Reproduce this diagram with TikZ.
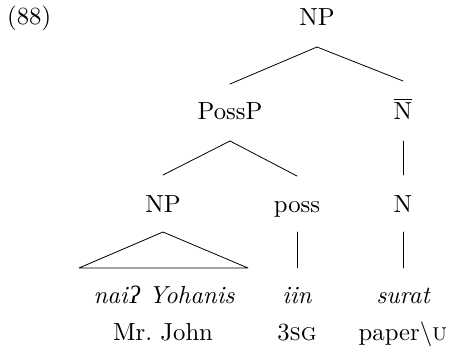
\documentclass[tikz,border=0pt]{standalone}
\usepackage{fontspec}
\setmainfont{lmroman10-regular}[Extension=.otf, ItalicFont=lmroman10-italic, SmallCapsFont=lmromancaps10-regular]
\newfontfamily\ipafont{Liberation Serif}
\usetikzlibrary{calc}
\tikzset{
  lbl/.style={anchor=base, inner sep=0pt, font=\fontsize{24.7}{30}\selectfont},
  edge/.style={line width=0.8pt, line cap=round, line join=round}
}
\begin{document}
\begin{tikzpicture}[x=1pt,y=-1pt]
\useasboundingbox (0,0) rectangle (452,350);
\node[lbl, anchor=base west] (ex) at (7,25) {(88)};
\node[lbl] (np) at (317,26) {NP};
\node[lbl] (possp) at (230,120) {PossP};
\node[lbl] (nbar) at (403,120) {\rlap{\rule[20pt]{18pt}{0.9pt}}N};
\node[lbl] (np2) at (163,212) {NP};
\node[lbl] (poss) at (297,212) {poss};
\node[lbl] (n) at (403,212) {N};
\node[lbl] (nai) at (164,303) {\itshape nai\kern2pt{\ipafont\itshape ʔ} Yohanis};
\node[lbl] (iin) at (297,303) {\itshape iin};
\node[lbl] (surat) at (403,303) {\itshape surat};
\node[lbl] (mr) at (163,340) {Mr.\ John};
\node[lbl] (sg) at (297,340) {3\textsc{sg}};
\node[lbl] (paper) at (403,340) {paper\textbackslash\textsc{u}};
% connectors
\draw[edge] ([yshift=-21pt]np.base) -- ([yshift=36pt]possp.base);
\draw[edge] ([yshift=-21pt]np.base) -- ([yshift=39pt]nbar.base);
\draw[edge] ([yshift=-21pt]possp.base) -- ([yshift=37pt]np2.base);
\draw[edge] ([yshift=-21pt]possp.base) -- ([yshift=36pt]poss.base);
\draw[edge] ([yshift=-21pt]nbar.base) -- ([yshift=37pt]n.base);
\draw[edge] ([yshift=-20pt]np2.base) -- ([xshift=-85pt,yshift=35pt]nai.base) -- ([xshift=84pt,yshift=35pt]nai.base) -- cycle;
\draw[edge] ([yshift=-20pt]poss.base) -- ([yshift=35pt]iin.base);
\draw[edge] ([yshift=-20pt]n.base) -- ([yshift=35pt]surat.base);
\end{tikzpicture}
\end{document}
